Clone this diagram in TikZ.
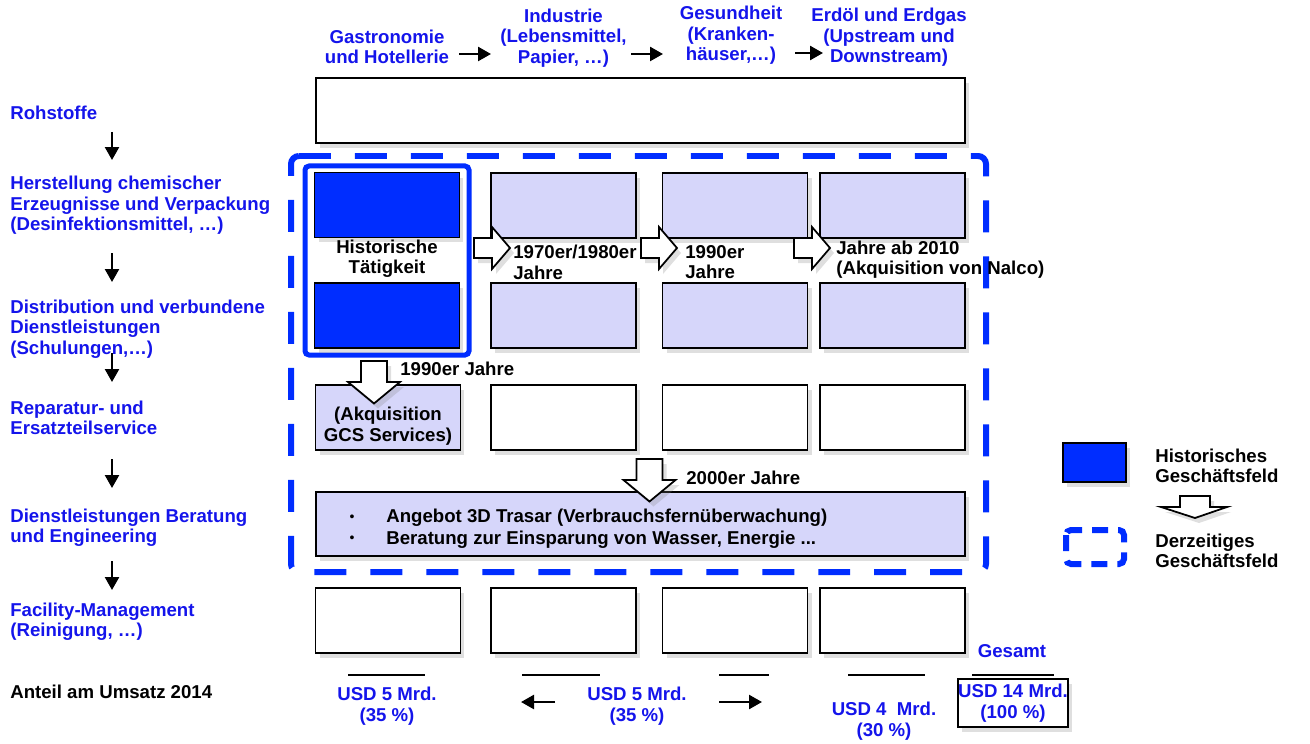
\documentclass[tikz,border=0pt]{standalone}
\usepackage{fontspec}
\setmainfont{Liberation Sans}
\usetikzlibrary{shadows,arrows.meta}
\definecolor{hblue}{RGB}{0,45,255}
\definecolor{tblue}{RGB}{20,20,235}
\definecolor{lav}{RGB}{214,214,250}
\begin{document}
\begin{tikzpicture}[x=0.02cm,y=-0.02cm,
  font=\fontsize{10.6}{11.6}\selectfont\bfseries,
  shad/.style={drop shadow={opacity=0.25,shadow xshift=0.08cm,shadow yshift=-0.1cm}},
  box/.style={draw=black,line width=1.1pt,minimum width=2.9cm,minimum height=1.3cm,inner sep=0pt,shad},
  wbox/.style={box,fill=white},
  lbox/.style={box,fill=lav},
  bbox/.style={box,fill=hblue},
  blk/.style={draw=black,line width=1pt,fill=white,line join=miter,shad},
  arr/.style={line width=1.4pt,-{Triangle[width=0.28cm,length=0.26cm]}},
  lbl/.style={text=tblue,align=left,anchor=west,inner sep=0pt},
  hdr/.style={text=tblue,align=center,inner sep=0pt},
  txt/.style={text=black,inner sep=0pt},
  ltxt/.style={txt,align=left,anchor=west},
  rblk/.pic={\draw[blk] (-18,-10) -- (0,-10) -- (0,-21) -- (18,0) -- (0,21) -- (0,10) -- (-18,10) -- cycle;},
  dblk/.pic={\draw[blk] (-13,-21) -- (13,-21) -- (13,0) -- (26,0) -- (0,21.5) -- (-26,0) -- (-13,0) -- cycle;}
]
\useasboundingbox (0,0) rectangle (1310,743);

% current business field (dashed)
\draw[hblue,line width=0.12cm,dash pattern=on 0.64cm off 0.48cm,rounded corners=0.16cm]
  (291,156) -- (986,156) -- (986,572) -- (291,572) -- cycle;
% historical frame
\draw[hblue,line width=0.1cm,rounded corners=0.08cm] (305,166) rectangle (469,355);

% boxes
\node[wbox,minimum width=12.98cm] (raw) at (640.5,110.5) {};
\node[bbox] (h1) at (387,205) {};
\node[bbox] (h2) at (387,315.5) {};
\node[lbox] (c21) at (563.5,205.5) {};
\node[lbox] (c22) at (563.5,315.5) {};
\node[lbox] (c31) at (735,205.5) {};
\node[lbox] (c32) at (735,315.5) {};
\node[lbox] (c41) at (892.5,205.5) {};
\node[lbox] (c42) at (892.5,315.5) {};
\node[lbox] (r1) at (388,417.5) {};
\node[wbox] (r2) at (563.5,417.5) {};
\node[wbox] (r3) at (735,417.5) {};
\node[wbox] (r4) at (892.5,417.5) {};
\node[lbox,minimum width=12.98cm,minimum height=1.28cm] (big) at (640.5,524) {};
\node[wbox] (f1) at (388,620.5) {};
\node[wbox] (f2) at (563.5,620.5) {};
\node[wbox] (f3) at (735,620.5) {};
\node[wbox] (f4) at (892.5,620.5) {};

% block arrows
\pic at (492,248) {rblk};
\pic at (659,248) {rblk};
\pic at (812,248) {rblk};
\pic at (374,382) {dblk};
\pic at (649.5,480) {dblk};

% header texts
\node[hdr] (g1) at (387,47) {Gastronomie\\und Hotellerie};
\node[hdr] (g2) at (563.5,38) {Industrie\\(Lebensmittel,\\Papier, …)};
\node[hdr] (g3) at (731,35.5) {Gesundheit\\(Kranken-\\häuser,…)};
\node[hdr] (g4) at (889,37.5) {Erdöl und Erdgas\\(Upstream und\\Downstream)};
\coordinate (ha1) at (459,54); \coordinate (hb1) at (491,54);
\coordinate (ha2) at (631,54); \coordinate (hb2) at (663,54);
\coordinate (ha3) at (795,53); \coordinate (hb3) at (823,53);
\draw[arr] (ha1) -- (hb1);
\draw[arr] (ha2) -- (hb2);
\draw[arr] (ha3) -- (hb3);

% left labels
\node[lbl] (l1) at (10,113) {Rohstoffe};
\node[lbl] (l2) at (10,205.5) {Herstellung chemischer\\Erzeugnisse und Verpackung\\(Desinfektionsmittel, …)};
\node[lbl] (l3) at (10,329) {Distribution und verbundene\\Dienstleistungen\\(Schulungen,…)};
\node[lbl] (l4) at (10,418) {Reparatur- und\\Ersatzteilservice};
\node[lbl] (l5) at (10,528) {Dienstleistungen Beratung\\und Engineering};
\node[lbl] (l6) at (10,622) {Facility-Management\\(Reinigung, …)};
\node[ltxt] (umsatz) at (10,692) {Anteil am Umsatz 2014};
\foreach \a/\b [count=\i] in {132/160,253/282,353/382,459/488,561/590}{
  \coordinate (va\i) at (112,\a); \coordinate (vb\i) at (112,\b);
  \draw[arr] (va\i) -- (vb\i);
}

% inner texts
\node[txt,align=center] (hist) at (387,259) {Historische\\Tätigkeit};
\node[ltxt] (t1) at (513,262.5) {1970er/1980er\\Jahre};
\node[ltxt] (t2) at (685,262) {1990er\\Jahre};
\node[ltxt] (t3) at (836,259.5) {Jahre ab 2010\\(Akquisition von Nalco)};
\node[ltxt] (t4) at (400,369) {1990er Jahre};
\node[txt,align=center] (gcs) at (388,426) {(Akquisition\\GCS Services)};
\node[ltxt] (t5) at (686,478) {2000er Jahre};
\node[txt] (b1) at (352,518) {\fontsize{8}{9}\selectfont\mdseries •};
\node[txt] (b2) at (352,539) {\fontsize{8}{9}\selectfont\mdseries •};
\node[ltxt] (bt) at (386,528.5) {Angebot 3D Trasar (Verbrauchsfernüberwachung)\\[1.2pt]Beratung zur Einsparung von Wasser, Energie ...};

% revenue shares
\foreach \a/\b [count=\i] in {348/425,522/600,719/769,848/925,972/1054}{
  \coordinate (sa\i) at (\a,675); \coordinate (sb\i) at (\b,675);
  \draw[line width=1pt] (sa\i) -- (sb\i);
}
\node[hdr] (u1) at (387,706) {USD 5 Mrd.\\(35 \%)};
\node[hdr] (u2) at (637,706) {USD 5 Mrd.\\(35 \%)};
\node[hdr] (u3) at (884,721) {USD 4\ \ Mrd.\\(30 \%)};
\node[hdr] (ges) at (1012,651) {Gesamt};
\node[draw=black,line width=1.1pt,fill=white,shad,minimum width=2.2cm,minimum height=0.96cm,inner sep=0pt,text=tblue,align=center] (tot) at (1013,703) {USD 14 Mrd.\\(100 \%)};
\coordinate (la) at (555,702); \coordinate (lb) at (521,702);
\coordinate (ra) at (719,702); \coordinate (rb) at (762,702);
\draw[arr] (la) -- (lb);
\draw[arr] (ra) -- (rb);

% legend
\node[bbox,minimum width=1.26cm,minimum height=0.78cm] (lgb) at (1094.5,462.5) {};
\node[ltxt] (lg1) at (1155,466) {Historisches\\Geschäftsfeld};
\draw[blk] (1180,496) -- (1210,496) -- (1210,507) -- (1227,507) -- (1195,518) -- (1161,507) -- (1180,507) -- cycle;
\draw[hblue,line width=0.12cm,dash pattern=on 0.32cm off 0.2cm,rounded corners=0.1cm] (1066,530) rectangle (1124,564);
\node[ltxt] (lg2) at (1155,551) {Derzeitiges\\Geschäftsfeld};
\end{tikzpicture}
\end{document}
